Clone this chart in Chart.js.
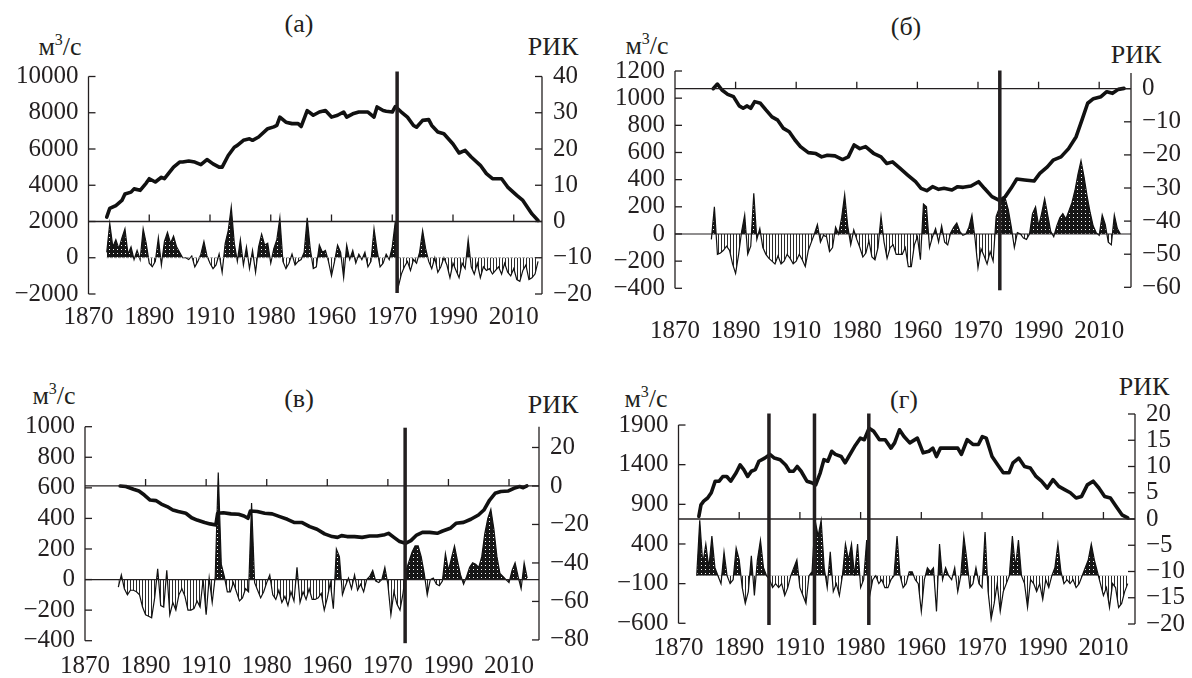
<!DOCTYPE html>
<html><head><meta charset="utf-8">
<script src="https://cdn.jsdelivr.net/npm/chart.js@4.4.0/dist/chart.umd.min.js"></script>
<style>
html,body{margin:0;padding:0;background:#fff;}
#wrap{position:relative;width:1192px;height:678px;overflow:hidden;background:#fff;}
#wrap canvas{position:absolute;left:0;top:0;}
.t{position:absolute;font-family:'Liberation Serif';font-size:26px;color:#231f20;transform:translate(-50%,-50%);white-space:nowrap;line-height:1;}
.t sup{font-size:16px;position:relative;top:-2px;vertical-align:top;}
</style></head>
<body><div id="wrap">
<div class="t" style="left:299px;top:24px">(а)</div>
<div class="t" style="left:60px;top:47px">м<sup>3</sup>/с</div>
<div class="t" style="left:553px;top:47px">РИК</div>
<div class="t" style="left:906px;top:27px">(б)</div>
<div class="t" style="left:647px;top:46px">м<sup>3</sup>/с</div>
<div class="t" style="left:1136px;top:55px">РИК</div>
<div class="t" style="left:299px;top:399px">(в)</div>
<div class="t" style="left:54px;top:396px">м<sup>3</sup>/с</div>
<div class="t" style="left:553px;top:405px">РИК</div>
<div class="t" style="left:904px;top:400px">(г)</div>
<div class="t" style="left:646px;top:399px">м<sup>3</sup>/с</div>
<div class="t" style="left:1144px;top:387px">РИК</div>
</div>
<script>
// ---------- shared axis data ----------
const xTickYears = [1870,1890,1910,1930,1950,1970,1990,2010];
const xTickLabels = ["1870","1890","1910","1980","1960","1970","1990","2010"];

// ---------- panel (а) ----------
const anomStartA = 1876;
const anomA = [300,1900,600,1000,500,1100,1600,200,600,-100,
400,-100,1600,800,-300,-500,-200,1100,-400,900,
1400,800,1200,600,300,0,0,-100,100,-500,
-200,200,900,100,-300,-600,-400,200,-800,800,
1500,2800,800,-200,1000,-400,600,-600,400,-800,
600,1300,700,800,-300,500,1000,2200,-200,-600,
-300,200,-400,-200,-100,300,2200,500,-600,-500,
700,300,400,-200,-1000,-200,700,300,-1100,700,
-100,400,-300,200,-100,300,-500,-200,1600,400,
-500,-300,200,-100,600,2000,-1600,-900,-500,-200,
-700,-100,-300,300,1500,500,-200,-600,0,-800,
-500,0,-400,-1100,-300,-700,-1100,-300,-600,1000,
-500,-900,-300,-1100,-500,-700,-600,-900,-700,-500,
-900,-300,-800,-1000,-600,-1200,-1300,-700,-400,-1200,
-1100,-900,-200];
const rikYearsA = [1876,1877,1879,1881,1882,1884,1885,1887,1889,1890,1892,1894,1895,1898,1900,1901,1903,1905,1907,1909,1911,1913,1914,1916,1918,1919,1921,1923,1924,1926,1929,1931,1932,1933,1935,1937,1939,1940,1942,1944,1946,1948,1950,1952,1954,1955,1957,1959,1962,1964,1965,1967,1968,1970,1971,1973,1975,1977,1978,1980,1982,1983,1985,1987,1990,1992,1994,1996,1999,2001,2003,2006,2008,2011,2013,2016,2018];
const rikA = [1.2,3.6,4.4,5.8,7.6,8.1,9.0,8.6,10.6,11.8,10.9,12.2,11.8,15.0,16.4,16.4,16.7,16.4,15.7,17.1,15.9,15.0,15.0,18.2,20.5,21.0,22.4,22.8,22.4,23.3,25.6,26.1,26.5,28.8,27.4,27.0,27.0,26.2,30.6,29.3,30.2,30.6,28.8,29.3,30.2,28.8,29.7,30.2,30.2,28.8,31.6,30.6,30.4,30.2,31.7,30.2,28.8,26.5,26.0,27.9,28.1,26.5,24.7,24.2,21.4,18.9,19.6,17.8,15.5,13.2,11.8,11.8,9.5,7.2,5.8,2.1,0.3];
const leftTicksA = [-2000,0,2000,4000,6000,8000,10000];
const rightTicksA = [-20,-10,0,10,20,30,40];
const breaksA = [1971.6];

// ---------- panel (б) ----------
const anomStartB = 1882;
const anomB = [-40,200,-150,-140,-120,-90,-120,-220,-290,-150,
20,140,-150,-90,300,-40,40,-100,-150,-180,
-200,-220,-160,-220,-200,-150,-180,-220,-200,-150,
-190,-240,-120,-60,0,70,-60,-10,-20,-130,
-100,50,0,120,290,60,-80,30,-40,-100,
-170,-140,-50,-170,-190,-100,130,-60,-180,-100,
-80,-150,-150,-150,-100,-240,-240,-80,-20,-190,
220,200,-100,-20,40,-60,60,-60,-80,10,
50,80,20,-10,0,50,140,-30,-250,-110,
-160,-220,-130,-200,130,190,250,260,180,50,
-100,10,0,-30,-40,0,150,200,60,150,
260,140,20,-20,60,120,150,110,170,230,
320,440,540,420,280,160,60,10,-10,140,
70,-60,-80,140,40,0];
const rikYearsB = [1882.6,1884,1885.5,1887.4,1889.3,1891.2,1892.5,1893.8,1895,1896.3,1898.2,1900,1902,1903.9,1905.8,1907.7,1909.6,1911.4,1914,1916.5,1918.4,1920.3,1922.8,1925.3,1927.2,1929.1,1931,1932.9,1935.5,1938,1939.9,1941.8,1944.3,1946.8,1949.4,1951.2,1953.1,1955,1957,1958.8,1961.4,1963.3,1965.1,1967.7,1970.2,1972.1,1974.6,1977.2,1979,1980.9,1982.8,1985.4,1988.5,1990.4,1992.9,1994.8,1997.4,1999.9,2002.4,2004.3,2006.2,2008.1,2010.6,2012.5,2014.4,2016.3,2018.2];
const rikB = [0,1.4,-0.4,-1.7,-2.4,-5.2,-5.9,-5.2,-5.9,-3.9,-4.4,-6.4,-8.5,-9.5,-12.0,-13.0,-15.5,-17.5,-19.3,-19.6,-20.6,-20.1,-20.3,-21.4,-20.6,-17.0,-18.1,-17.5,-19.5,-20.6,-22.6,-22.1,-24.1,-26.1,-28.1,-30.1,-30.8,-29.6,-30.4,-30.1,-30.6,-29.6,-29.8,-29.4,-28.1,-30.1,-32.6,-33.8,-32.6,-30.1,-27.3,-27.6,-27.9,-25.6,-23.6,-21.6,-20.6,-18.1,-14.5,-9.5,-4.4,-3.0,-2.4,-0.9,-1.4,-0.2,0.1];
const leftTicksB = [-400,-200,0,200,400,600,800,1000,1200];
const rightTicksB = [-60,-50,-40,-30,-20,-10,0];
const breaksB = [1977.2];

// ---------- panel (в) ----------
const anomStartC = 1881;
const anomC = [-50,30,-60,-100,-70,-70,-80,-100,-180,-230,
-240,-250,-120,70,-170,-180,60,-230,-150,-200,
-100,-60,-110,-200,-200,-190,-140,-180,0,-230,
10,-150,20,700,100,20,-80,-80,-20,-80,
-140,-120,-60,-80,500,-20,-70,-120,-80,-20,
30,-100,-130,-70,-150,-110,-170,-80,-140,80,
-150,-80,-130,-60,-130,-130,-120,-90,-200,-120,
-20,-190,200,150,-100,-40,10,-60,30,-70,
-30,-80,0,20,60,-10,-20,0,80,-30,
-230,-80,-160,-200,-90,60,120,180,220,220,
150,40,-100,0,10,-30,-40,-10,170,60,
140,220,120,30,-30,20,80,110,100,80,
150,300,400,460,330,150,40,20,0,-20,
60,110,20,-60,110,10];
const rikYearsC = [1881.6,1883.5,1886,1887.8,1889.6,1891.5,1893.4,1895.2,1897.1,1899,1900.8,1903.3,1905.2,1907,1909.5,1911.3,1913.2,1913.8,1915.7,1918.2,1920.7,1922.5,1923.8,1924.6,1926.9,1929.3,1931.8,1934.3,1936.8,1939.2,1941.7,1944.2,1946.6,1949.1,1951.6,1953.4,1954.7,1956.5,1959,1961.5,1964,1966.5,1969,1970.2,1972,1973.9,1975.8,1977.6,1979.5,1981.4,1983.8,1986.3,1988.1,1990.6,1992.5,1995,1997.4,1999.9,2001.7,2003.6,2005.4,2007.3,2009.8,2011.6,2013.5,2014.7,2015.9];
const rikC = [0,-0.3,-1.7,-2.6,-4.7,-7.3,-7.6,-9.4,-10.7,-12.5,-13.3,-14.2,-16.5,-17.7,-19.0,-19.7,-20.3,-14.2,-13.9,-14.5,-14.7,-15.6,-16.8,-13.0,-13.3,-14.2,-14.5,-15.9,-17.3,-19.0,-19.0,-21.1,-22.5,-24.9,-26.3,-26.7,-25.8,-26.3,-26.3,-26.7,-26.0,-26.0,-25.3,-24.6,-26.7,-28.9,-29.8,-28.4,-25.5,-24.1,-24.1,-24.6,-23.4,-22.0,-19.4,-18.9,-17.3,-15.1,-12.5,-7.3,-3.8,-2.9,-2.6,-1.2,-0.3,-0.9,0];
const leftTicksC = [-400,-200,0,200,400,600,800,1000];
const rightTicksC = [-80,-60,-40,-20,0,20];
const breaksC = [1975.7];

// ---------- panel (г) ----------
const anomStartD = 1876;
const anomD = [0,700,150,400,100,500,100,0,-100,300,
0,-100,-50,350,200,-150,-350,-200,250,-250,
200,450,100,0,-50,-150,-100,-150,-100,-250,
-150,0,100,200,-150,-250,-350,0,50,700,
500,700,100,-150,300,-200,-100,-250,0,400,
200,400,0,400,-150,-50,450,-250,-50,0,
-100,-50,-150,-150,-50,0,500,0,-150,-100,
50,50,-50,-100,-450,-50,100,50,100,-450,
400,-50,100,0,-50,100,-200,0,500,200,
-150,-100,100,-100,-150,550,-200,-550,-350,-100,
-450,-200,-100,0,500,100,450,0,-100,-400,
-50,-100,-200,-100,-300,-50,-150,0,100,400,
50,-100,-50,-100,-50,-150,-100,0,100,200,
400,200,50,-100,-250,-150,-400,-100,-150,-400,
-350,-200,-100];
const rikYearsD = [1876.7,1877.4,1878.3,1879.6,1880.8,1882.1,1883.4,1884.6,1885.9,1887.2,1889,1890.3,1891.5,1892.8,1894,1895.3,1896.5,1898.4,1900.1,1901.6,1903.5,1905.3,1906.6,1907.9,1909.1,1910.4,1912.3,1913.9,1915.2,1916.7,1917.9,1919.2,1920.5,1921.7,1923.6,1924.9,1926.1,1928,1929.9,1931.2,1932.8,1934.3,1936.2,1938.1,1940,1941.2,1942.8,1944.3,1946.2,1948.7,1950.6,1952.5,1953.8,1955,1956.3,1958.2,1960.1,1962,1963.2,1965.1,1967,1968.8,1970.1,1971.4,1973.3,1975.2,1977,1978.9,1980.2,1982.1,1984,1985.9,1987.8,1989.6,1991.5,1993.4,1995.3,1997.2,1999.1,2001,2002.8,2004.7,2006.6,2008.5,2010.4,2012.3,2014.2,2016.1,2018];
const rikD = [0.5,2.7,3.4,4.0,5.0,7.2,7.2,8.1,8.1,7.2,8.8,10.3,9.4,8.1,9.1,9.4,11.0,11.6,12.3,11.6,11.3,10.3,9.1,9.1,10.0,9.1,7.2,6.9,6.5,8.8,11.3,11.0,12.9,12.3,11.9,10.7,11.9,13.8,15.4,15.1,17.3,16.7,15.1,15.1,13.5,14.5,17.0,15.7,14.5,15.4,12.6,12.9,13.5,11.9,13.5,13.5,13.5,13.5,12.3,15.1,14.2,14.2,15.7,15.4,11.9,10.3,8.8,8.8,10.7,11.6,10.0,9.7,8.1,7.2,5.9,7.5,6.2,5.6,5.0,4.0,4.3,6.5,7.2,5.9,4.3,4.0,2.4,0.8,0.2];
const leftTicksD = [-600,-100,400,900,1400,1900];
const rightTicksD = [-20,-15,-10,-5,0,5,10,15,20];
const breaksD = [1899.8,1914.8,1932.7];

// ---------- rendering ----------
const FONT = "'Liberation Serif'";
const INK = '#231f20';
const W = 1192, H = 678, WL = 84, WR = 54;
Chart.defaults.font.family = FONT;

function makePatterns(){
  const pc = document.createElement('canvas'); pc.width = 4; pc.height = 4;
  const g = pc.getContext('2d'); g.fillStyle = '#161616'; g.fillRect(0,0,4,4);
  g.fillStyle = '#ffffff'; g.fillRect(1,1,1,1);
  const nc = document.createElement('canvas'); nc.width = 3; nc.height = 3;
  const h = nc.getContext('2d'); h.fillStyle = '#2a2a2a'; h.fillRect(1,0,1,3);
  const c = document.createElement('canvas').getContext('2d');
  return {pos: c.createPattern(pc,'repeat'), neg: c.createPattern(nc,'repeat')};
}
const PAT = makePatterns();
const fmt = v => v < 0 ? '\u2212' + Math.abs(v) : String(v);

function makePanel(p){
  const cv = document.createElement('canvas');
  cv.width = W; cv.height = H; cv.style.width = W+'px'; cv.style.height = H+'px';
  document.getElementById('wrap').appendChild(cv);
  const tickFont = {family: FONT, size: 25};
  const HX = p.HX;
  const axisPlugin = {
    id: 'axisDraw',
    afterDatasetsDraw(chart){
      const ctx = chart.ctx, a = chart.chartArea;
      const sx = chart.scales.x, sl = chart.scales.yL, sr = chart.scales.yR;
      const ln = (x1,y1,x2,y2) => { ctx.beginPath(); ctx.moveTo(x1,y1); ctx.lineTo(x2,y2); ctx.stroke(); };
      ctx.save();
      if (p.base){
        ctx.strokeStyle = p.base.color; ctx.lineWidth = p.base.width;
        ctx.setLineDash(p.base.dash || []);
        const yb = sl.getPixelForValue(0);
        ln(p.base.from ? sx.getPixelForValue(p.base.from) : a.left, yb, a.right, yb);
        ctx.setLineDash([]);
      }
      ctx.strokeStyle = INK; ctx.lineWidth = 1.3;
      const lT = sl.getPixelForValue(p.lTicks[p.lTicks.length-1]);
      const lB = sl.getPixelForValue(p.lTicks[0]);
      ln(a.left, lB, a.left, lT);
      p.lTicks.forEach(v => { const y = sl.getPixelForValue(v); ln(a.left, y, a.left+7, y); });
      const rB = sr.getPixelForValue(p.rTicks[0]);
      ln(a.right, rB, a.right, p.rTopY ? a.top + p.rTopY : sr.getPixelForValue(p.rTicks[p.rTicks.length-1]));
      p.rTicks.forEach(v => { const y = sr.getPixelForValue(v); ln(a.right, y, a.right-7, y); });
      const y0 = sr.getPixelForValue(0);
      ln(a.left, y0, a.right, y0);
      xTickYears.slice(1).forEach(yr => { const x = sx.getPixelForValue(yr); ln(x, y0, x, y0-7); });
      ctx.lineWidth = 3.5;
      p.breaks.forEach(yr => { const x = sx.getPixelForValue(yr); ln(x, a.top - p.vUp, x, a.bottom + p.vDown); });
      ctx.restore();
    }
  };
  const anomData = p.anom.map((v,i) => ({x: p.anomStart + i, y: v}));
  const rikData = p.rikYears.map((yr,i) => ({x: yr, y: p.rik[i]}));
  new Chart(cv, {
    type: 'line',
    data: { datasets: [
      { data: rikData, yAxisID: 'yR', xAxisID: 'x', borderColor: '#111', borderWidth: 3.6,
        pointRadius: 0, tension: 0, fill: false, borderJoinStyle: 'round', borderCapStyle: 'round', order: 0 },
      { data: anomData, yAxisID: 'yL', xAxisID: 'x', borderColor: '#111', borderWidth: 1.2,
        pointRadius: 0, tension: 0, order: 1,
        fill: { target: {value: 0}, above: PAT.pos, below: PAT.neg } }
    ]},
    options: {
      responsive: false, animation: false, events: [],
      layout: { padding: { left: p.L - WL, right: W - p.R - WR, top: p.T, bottom: H - p.B - HX } },
      plugins: { legend: {display: false}, tooltip: {enabled: false}, title: {display: false} },
      scales: {
        x: { type: 'linear', position: 'bottom', min: 1870, max: p.xmax,
             grid: {display: false, drawTicks: false}, border: {display: false},
             afterBuildTicks: s => { s.ticks = xTickYears.map(v => ({value: v})); },
             afterFit: s => { s.height = HX; },
             ticks: { autoSkip: false, maxRotation: 0, minRotation: 0, padding: p.xPad, font: tickFont, color: INK,
                      callback: (v,i) => xTickLabels[i] } },
        yL: { type: 'linear', position: 'left', min: p.lmin, max: p.lmax,
              grid: {display: false, drawTicks: false}, border: {display: false},
              afterBuildTicks: s => { s.ticks = p.lTicks.map(v => ({value: v})); },
              afterFit: s => { s.width = WL; },
              ticks: { autoSkip: false, padding: 10, font: tickFont, color: INK, callback: v => fmt(v) } },
        yR: { type: 'linear', position: 'right', min: p.rmin, max: p.rmax,
              grid: {display: false, drawTicks: false}, border: {display: false},
              afterBuildTicks: s => { s.ticks = p.rTicks.map(v => ({value: v})); },
              afterFit: s => { s.width = WR; },
              ticks: { autoSkip: false, padding: 11, font: tickFont, color: INK, callback: v => fmt(v) } }
      }
    },
    plugins: [axisPlugin]
  });
}

makePanel({ L: 88.5, R: 542, T: 76.5, B: 294, HX: 40, xmax: 2019.3, xPad: 8,
  lmin: -2000, lmax: 10000, rmin: -20, rmax: 40, lTicks: leftTicksA, rTicks: rightTicksA,
  anom: anomA, anomStart: anomStartA, rik: rikA, rikYears: rikYearsA, breaks: breaksA, vUp: 5, vDown: -1,
  base: {color: '#9a9a9a', width: 1, dash: [2,2], from: 1876} });
makePanel({ L: 675, R: 1131, T: 71, B: 288.3, HX: 62, xmax: 2020.5, xPad: 28,
  lmin: -400, lmax: 1200, rmin: -60.3, rmax: 5.35, lTicks: leftTicksB, rTicks: rightTicksB, rTopY: 2,
  anom: anomB, anomStart: anomStartB, rik: rikB, rikYears: rikYearsB, breaks: breaksB, vUp: 0.5, vDown: 2,
  base: {color: INK, width: 1.2} });
makePanel({ L: 85, R: 539, T: 426.7, B: 640.7, HX: 37, xmax: 2019.9, xPad: 11,
  lmin: -400, lmax: 1000, rmin: -80.4, rmax: 30.8, lTicks: leftTicksC, rTicks: rightTicksC, rTopY: 0.01,
  anom: anomC, anomStart: anomStartC, rik: rikC, rikYears: rikYearsC, breaks: breaksC, vUp: -1, vDown: 2.5,
  base: {color: INK, width: 1.2} });
makePanel({ L: 678.5, R: 1135, T: 414, B: 624, HX: 50, xmax: 2020.4, xPad: 9,
  lmin: -609, lmax: 2039, rmin: -20, rmax: 20, lTicks: leftTicksD, rTicks: rightTicksD,
  anom: anomD, anomStart: anomStartD, rik: rikD, rikYears: rikYearsD, breaks: breaksD, vUp: 0.5, vDown: 1,
  base: null });
</script>
</body></html>
